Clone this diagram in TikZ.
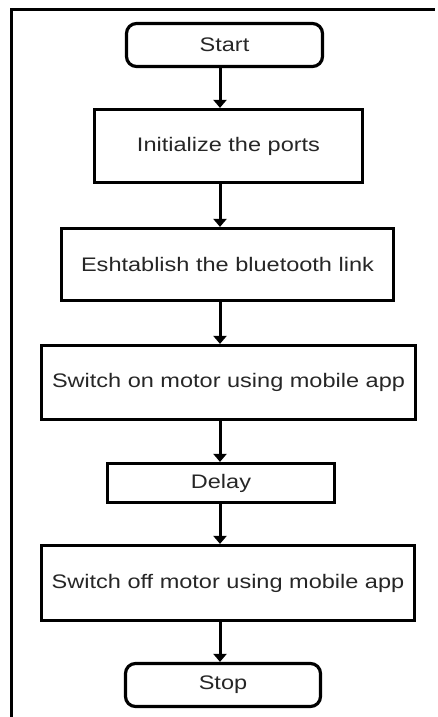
\documentclass[tikz,border=0pt]{standalone}
\usepackage{fontspec}
\usetikzlibrary{arrows.meta}
\newfontfamily\flowfont[FakeStretch=1.2]{Liberation Sans}
\definecolor{txtgray}{gray}{0.15}
\tikzset{
  flowbox/.style={draw, line width=3.2pt, inner sep=0pt, text=txtgray,
    font=\flowfont\fontsize{19.6}{23}\selectfont},
  termbox/.style={flowbox, rounded corners=10pt},
  flowarrow/.style={line width=3pt, -{Triangle[width=13pt,length=8pt]}}
}
\begin{document}
\begin{tikzpicture}[x=1pt,y=-1pt]
        \useasboundingbox (0,0) rectangle (437,717);
        \draw[line width=3pt] (11,717) -- (11,10) -- (435,10);

        \coordinate (axis) at (220,0);

        \node[termbox, minimum width=196pt, minimum height=43pt] (start) at (224.5,45) {Start};
        \node[flowbox, minimum width=268pt, minimum height=73pt] (init) at (228.5,146) {Initialize the ports};
        \node[flowbox, minimum width=332pt, minimum height=72pt] (link) at (227.5,264.5) {Eshtablish the bluetooth link};
        \node[flowbox, minimum width=374pt, minimum height=74pt] (on) at (228.5,382.5) {Switch on motor using mobile app};
        \node[flowbox, minimum width=227pt, minimum height=39pt] (delay) at (221,483) {Delay};
        \node[flowbox, minimum width=373pt, minimum height=75pt] (off) at (228,583) {Switch off motor using mobile app};
        \node[termbox, minimum width=195pt, minimum height=43pt] (stop) at (223,685) {Stop};

        \draw[flowarrow] (start.south -| axis) -- (init.north -| axis);
        \draw[flowarrow] (init.south -| axis) -- (link.north -| axis);
        \draw[flowarrow] (link.south -| axis) -- (on.north -| axis);
        \draw[flowarrow] (on.south -| axis) -- (delay.north -| axis);
        \draw[flowarrow] (delay.south -| axis) -- (off.north -| axis);
        \draw[flowarrow] (off.south -| axis) -- (stop.north -| axis);
\end{tikzpicture}
\end{document}
